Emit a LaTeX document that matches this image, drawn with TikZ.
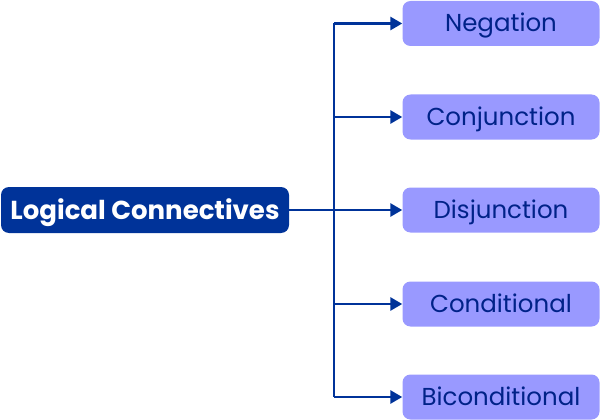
\documentclass[tikz,border=0pt]{standalone}
\usepackage{fontspec}
\setmainfont{Poppins}
\usetikzlibrary{arrows.meta}
\definecolor{dblue}{HTML}{003399}
\definecolor{lblue}{HTML}{9999FF}
\definecolor{tblue}{HTML}{002288}
\begin{document}
\begin{tikzpicture}[x=1pt,y=-1pt,
  rootbox/.style={fill=dblue,rounded corners=8pt,minimum width=288pt,minimum height=46pt,inner sep=0pt,text height=18pt,text depth=0pt,text=white,font=\fontsize{26}{28}\selectfont\bfseries},
  leafbox/.style={fill=lblue,rounded corners=8pt,minimum width=197pt,minimum height=45pt,inner sep=0pt,text height=17pt,text depth=0pt,text=tblue,font=\fontsize{24.5}{28}\selectfont},
  conn/.style={draw=dblue,line width=2.8pt},
  arr/.style={conn,-{Triangle[length=12pt,width=13pt]}}]
\useasboundingbox (0,0) rectangle (600,420);
\node[rootbox] (root) at (145,210) {Logical Connectives};
\node[leafbox] (n1) at (501,23.5) {Negation};
\node[leafbox] (n2) at (501,117) {Conjunction};
\node[leafbox] (n3) at (501,210) {Disjunction};
\node[leafbox] (n4) at (501,304) {Conditional};
\node[leafbox] (n5) at (501,397) {Biconditional};
\coordinate (top) at (334,23.5);
\coordinate (bot) at (334,397);
\coordinate (j2) at (334,117);
\coordinate (j4) at (334,304);
\draw[conn] (top) -- (bot);
\draw[arr] (root.east) -- (n3.west);
\draw[arr] (top) -- (n1.west);
\draw[arr] (j2) -- (n2.west);
\draw[arr] (j4) -- (n4.west);
\draw[arr] (bot) -- (n5.west);
\end{tikzpicture}
\end{document}
